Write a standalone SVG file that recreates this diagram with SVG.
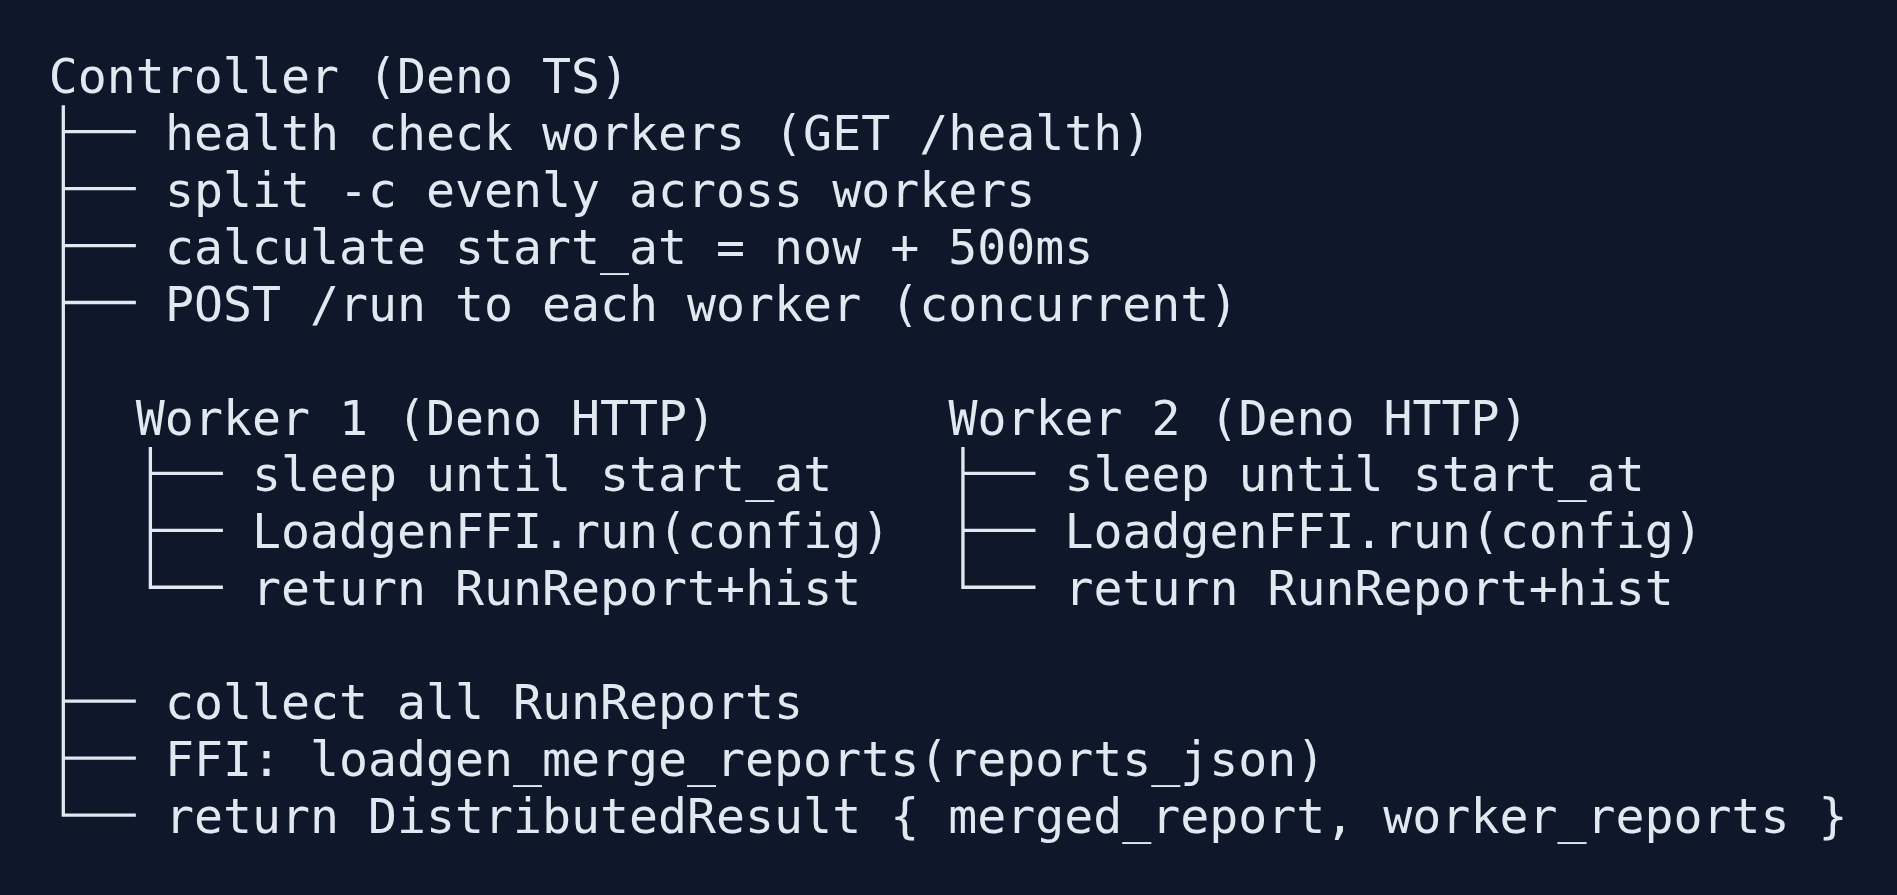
<svg xmlns="http://www.w3.org/2000/svg" width="1897" height="895" viewBox="0 0 1897 895">
  <style>
    text { font-family: "DejaVu Sans Mono", "Liberation Mono", monospace; font-size: 48.2px; fill: #e2e8f0; }
    .tree { fill: none; stroke: #e2e8f0; stroke-width: 3.3; stroke-linecap: butt; stroke-linejoin: miter; }
  </style>
  <rect x="0" y="0" width="1897" height="895" fill="#0f172a"/>

  <g id="connectors">
    <path class="tree" d="M63.31 105.25 V815.05 H135.86"/>
    <path class="tree" d="M63.31 131.65 H135.86 M63.31 188.6 H135.86 M63.31 245.55 H135.86 M63.31 302.5 H135.86 M63.31 701.15 H135.86 M63.31 758.1 H135.86"/>
    <path class="tree" d="M150.37 446.95 V587.25 H222.92 M150.37 473.35 H222.92 M150.37 530.3 H222.92"/>
    <path class="tree" d="M962.93 446.95 V587.25 H1035.48 M962.93 473.35 H1035.48 M962.93 530.3 H1035.48"/>
  </g>

  <g id="controller"><text x="48.8" y="92.8">Controller (Deno TS)</text></g>
  <g id="step-health"><text x="164.88" y="149.75">health check workers (GET /health)</text></g>
  <g id="step-split"><text x="164.88" y="206.7">split -c evenly across workers</text></g>
  <g id="step-start"><text x="164.88" y="263.65">calculate start_at = now + 500ms</text></g>
  <g id="step-post"><text x="164.88" y="320.6">POST /run to each worker (concurrent)</text></g>

  <g id="worker1"><text x="135.86" y="434.5">Worker 1 (Deno HTTP)</text></g>
  <g id="worker1-sleep"><text x="251.94" y="491.45">sleep until start_at</text></g>
  <g id="worker1-run"><text x="251.94" y="548.4">LoadgenFFI.run(config)</text></g>
  <g id="worker1-return"><text x="251.94" y="605.35">return RunReport+hist</text></g>

  <g id="worker2"><text x="948.42" y="434.5">Worker 2 (Deno HTTP)</text></g>
  <g id="worker2-sleep"><text x="1064.5" y="491.45">sleep until start_at</text></g>
  <g id="worker2-run"><text x="1064.5" y="548.4">LoadgenFFI.run(config)</text></g>
  <g id="worker2-return"><text x="1064.5" y="605.35">return RunReport+hist</text></g>

  <g id="step-collect"><text x="164.88" y="719.25">collect all RunReports</text></g>
  <g id="step-merge"><text x="164.88" y="776.2">FFI: loadgen_merge_reports(reports_json)</text></g>
  <g id="step-return"><text x="164.88" y="833.15">return DistributedResult { merged_report, worker_reports }</text></g>
</svg>
